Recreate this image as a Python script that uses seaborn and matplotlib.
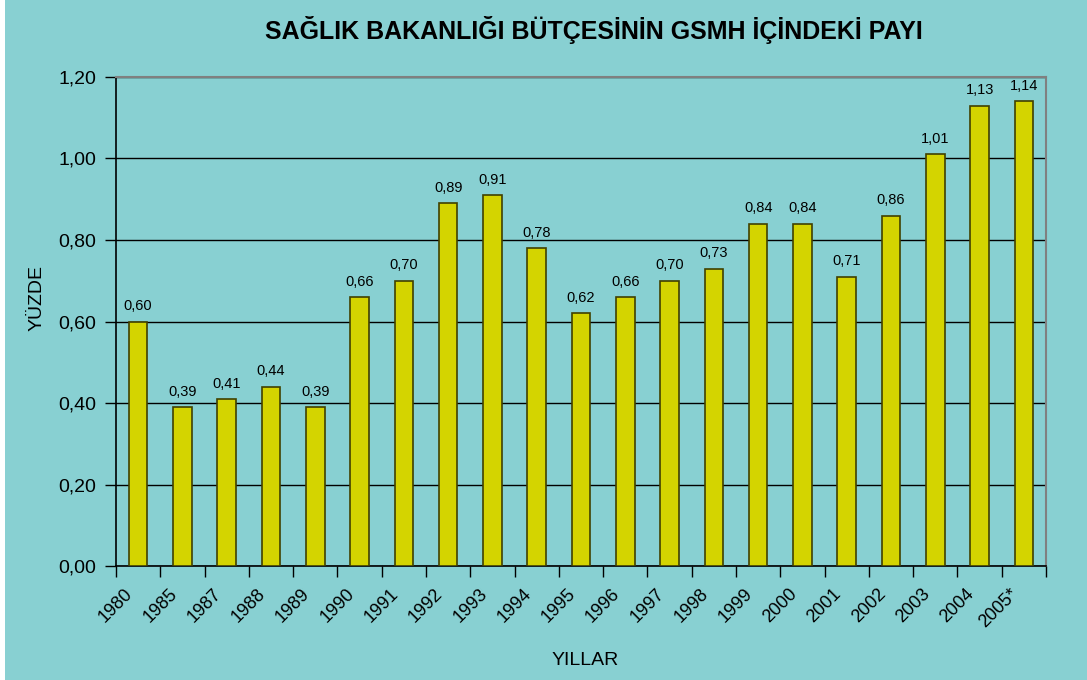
import matplotlib
matplotlib.use("Agg")
import matplotlib.pyplot as plt
import matplotlib.transforms as mtransforms
import seaborn as sns
import pandas as pd
from matplotlib.ticker import FuncFormatter, FixedLocator
from matplotlib.patches import Rectangle

# Data
years = ["1980", "1985", "1987", "1988", "1989", "1990", "1991", "1992", "1993", "1994",
         "1995", "1996", "1997", "1998", "1999", "2000", "2001", "2002", "2003", "2004", "2005*"]
shares = [0.60, 0.39, 0.41, 0.44, 0.39, 0.66, 0.70, 0.89, 0.91, 0.78,
          0.62, 0.66, 0.70, 0.73, 0.84, 0.84, 0.71, 0.86, 1.01, 1.13, 1.14]

df = pd.DataFrame({"Yil": years, "Pay": shares})

bg = "#88D0D2"
sns.set_style("white")
plt.rcParams["font.family"] = ["Liberation Sans", "DejaVu Sans"]
plt.rcParams["text.color"] = "black"
plt.rcParams["axes.labelcolor"] = "black"
plt.rcParams["xtick.color"] = "black"
plt.rcParams["ytick.color"] = "black"

fig = plt.figure(figsize=(10.87, 6.80), dpi=100, facecolor=bg)
ax = fig.add_axes([0.1067, 0.1676, 0.8556, 0.7192])
ax.set_facecolor(bg)
# thin white strip on the left edge
fig.patches.append(Rectangle((0, 0), 5 / 1087, 1, transform=fig.transFigure,
                             facecolor="white", edgecolor="none", zorder=0))

sns.barplot(data=df, x="Yil", y="Pay", color="#D4D400", saturation=1,
            width=0.42, edgecolor="#404000", linewidth=1.2, ax=ax, zorder=3)

ax.bar_label(ax.containers[0], labels=[f"{v:.2f}".replace(".", ",") for v in shares],
             padding=6, fontsize=10.5, color="black")

ax.set_ylim(0, 1.2)
ax.set_xlim(-0.5, len(years) - 0.5)
ax.set_yticks([0, 0.2, 0.4, 0.6, 0.8, 1.0, 1.2])
ax.yaxis.set_major_formatter(FuncFormatter(lambda v, p: f"{v:.2f}".replace(".", ",")))
ax.yaxis.grid(True, color="black", linewidth=1.0)
ax.set_axisbelow(True)

# x ticks between categories
ax.xaxis.set_minor_locator(FixedLocator([i - 0.5 for i in range(len(years) + 1)]))
ax.tick_params(axis="x", which="major", length=0, pad=14, labelsize=13)
ax.tick_params(axis="x", which="minor", length=8, width=1, color="black", direction="out", bottom=True)
ax.tick_params(axis="y", length=8, width=1, color="black", direction="out", left=True, labelsize=14, pad=6)
shift = mtransforms.ScaledTranslation(-14 / 100, 0, fig.dpi_scale_trans)
for lbl in ax.get_xticklabels():
    lbl.set_rotation(45)
    lbl.set_ha("right")
    lbl.set_rotation_mode("anchor")
    lbl.set_transform(lbl.get_transform() + shift)

for side in ["left", "bottom"]:
    ax.spines[side].set_color("black")
    ax.spines[side].set_linewidth(1.2)
for side in ["top", "right"]:
    ax.spines[side].set_color("#808080")
    ax.spines[side].set_linewidth(1.5)

ax.set_xlabel("YILLAR", fontsize=14)
ax.xaxis.set_label_coords(0.505, -0.175)
ax.set_ylabel("YÜZDE", fontsize=14)
ax.yaxis.set_label_coords(-0.076, 0.548)

fig.text(594 / 1087, 1 - 30 / 680, "SAĞLIK BAKANLIĞI BÜTÇESİNİN GSMH İÇİNDEKİ PAYI",
         ha="center", va="center", fontsize=18, fontweight="bold")

fig.savefig("out.png", dpi=100, facecolor=bg)
